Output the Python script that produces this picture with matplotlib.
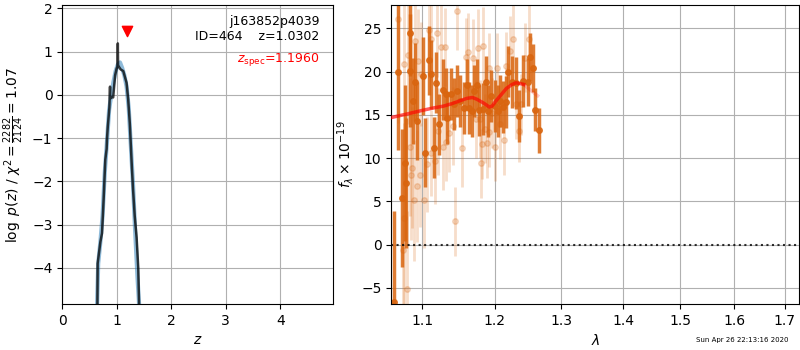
import numpy as np
import matplotlib
matplotlib.use("Agg")
import matplotlib.pyplot as plt
from matplotlib.ticker import FixedLocator, FixedFormatter, NullLocator

# --- p(z) curves ---
z_fit = [0.645, 0.65, 0.67, 0.70, 0.73, 0.76, 0.79, 0.815, 0.82, 0.835, 0.865, 0.877, 0.88,
         0.90, 0.935, 0.97, 1.00, 1.015, 1.02, 1.025, 1.04, 1.07, 1.12, 1.18, 1.21, 1.24,
         1.275, 1.30, 1.33, 1.365, 1.395, 1.41]
lnp_fit = [-4.84, -3.9, -3.7, -3.4, -3.2, -2.4, -1.5, -1.25, -1.05, -0.75, -0.3, 0.19, -0.09,
           -0.05, -0.06, 0.45, 0.62, 0.64, 1.19, 0.66, 0.65, 0.59, 0.55, 0.28, -0.1, -0.66,
           -1.6, -2.2, -2.8, -3.3, -4.0, -4.84]
z_smooth = [0.64, 0.66, 0.70, 0.74, 0.78, 0.82, 0.86, 0.90, 0.94, 0.98, 1.02, 1.06, 1.10,
            1.14, 1.18, 1.22, 1.26, 1.30, 1.34, 1.38, 1.41]
lnp_smooth = [-4.84, -3.9, -3.4, -2.8, -1.8, -1.1, -0.35, 0.0, 0.3, 0.55, 0.7, 0.75, 0.62,
              0.45, 0.2, -0.3, -1.2, -2.1, -3.2, -4.2, -4.84]
z_best = 1.0302
z_spec = 1.1960

# --- spectrum: binned (dark) ---
wave_bin = [1.0636, 1.0687, 1.0731, 1.0765, 1.0787, 1.0830, 1.0839, 1.0874, 1.0904, 1.0934,
            1.1013, 1.1036, 1.1080, 1.1116, 1.1156, 1.1183, 1.1227, 1.1273, 1.1318, 1.1336,
            1.1386, 1.1427, 1.1473, 1.1510, 1.1565, 1.1603, 1.1639, 1.1673, 1.1709, 1.1743,
            1.1780, 1.1828, 1.1875, 1.1908, 1.1947, 1.2004, 1.2043, 1.2077, 1.2116, 1.2160,
            1.2198, 1.2248, 1.2311, 1.2360, 1.2411, 1.2485, 1.2520, 1.2560, 1.2595, 1.2660]
flux_bin = [-6.6, 19.9, 5.4, 9.4, 7.1, 20.1, 24.5, 16.6, 18.8, 14.3,
            19.5, 10.6, 21.3, 19.7, 11.2, 18.7, 13.9, 17.9, 17.4, 14.6,
            17.4, 16.2, 17.7, 16.6, 15.8, 18.5, 15.8, 15.4, 17.8, 18.5,
            15.5, 15.7, 18.8, 15.4, 17.2, 16.0, 15.4, 16.6, 15.9, 16.5,
            20.0, 18.8, 18.7, 14.9, 18.9, 18.8, 21.7, 20.4, 15.6, 13.2]
err_bin = [10.5, 9.0, 8.0, 9.0, 7.5, 6.5, 5.0, 5.0, 4.5, 4.5,
           4.5, 4.0, 4.0, 4.0, 3.5, 3.5, 3.5, 3.5, 3.0, 3.0,
           3.0, 3.0, 3.0, 3.0, 3.0, 3.0, 3.0, 3.0, 3.0, 3.0,
           3.0, 3.0, 3.0, 3.0, 3.0, 3.0, 3.0, 3.0, 3.0, 3.0,
           3.0, 3.0, 3.0, 3.0, 3.0, 2.8, 2.8, 2.8, 2.5, 2.6]

# --- spectrum: unbinned (light) ---
wave_raw = [1.0687, 1.0752, 1.0755, 1.0745, 1.0803, 1.0815, 1.0830, 1.0847, 1.0868, 1.0894,
            1.0904, 1.0926, 1.0947, 1.0970, 1.0975, 1.1026, 1.1058, 1.1080, 1.1116, 1.1120,
            1.1169, 1.1192, 1.1213, 1.1249, 1.1280, 1.1302, 1.1318, 1.1362, 1.1408, 1.1439,
            1.1473, 1.1533, 1.1591, 1.1622, 1.1691, 1.1728, 1.1760, 1.1793, 1.1807, 1.1821,
            1.1829, 1.1853, 1.1890, 1.1912, 1.1922, 1.1954, 1.2004, 1.2037, 1.2077, 1.2131,
            1.2168, 1.2225, 1.2270, 1.2308, 1.2360, 1.2378, 1.2438, 1.2504]
flux_raw = [26.1, 3.1, 20.9, -0.6, -5.1, 21.9, 11.3, 8.0, 8.9, 5.1,
            23.5, 6.8, 21.2, 8.0, 19.7, 5.1, 9.3, 24.8, 23.8, 10.6,
            9.7, 24.4, 13.1, 22.8, 11.3, 22.8, 11.8, 12.9, 13.7, 2.7,
            27.0, 11.2, 21.7, 22.3, 21.6, 14.5, 22.7, 14.5, 9.4, 11.6,
            22.9, 13.4, 11.7, 20.4, 13.0, 15.2, 11.3, 20.4, 13.9, 12.1,
            20.6, 22.4, 23.8, 16.2, 13.1, 16.2, 21.6, 23.8]
err_raw = [12.0, 11.0, 11.0, 10.0, 9.0, 8.0, 8.0, 7.5, 7.0, 7.0,
           6.5, 6.5, 6.0, 6.0, 6.0, 5.5, 5.5, 5.5, 5.0, 5.0,
           5.0, 5.0, 5.0, 5.0, 5.0, 4.5, 4.5, 4.5, 4.5, 4.0,
           4.5, 4.5, 4.5, 4.5, 4.5, 4.5, 4.5, 4.5, 4.0, 4.0,
           4.5, 4.0, 4.0, 4.0, 4.0, 4.0, 4.0, 4.0, 4.0, 4.0,
           4.0, 4.0, 4.0, 4.0, 3.5, 3.5, 4.0, 4.0]

# --- model ---
wave_model = [1.0603, 1.0700, 1.0800, 1.0992, 1.1150, 1.1280, 1.1400, 1.1500, 1.1603, 1.1680,
              1.1743, 1.1830, 1.1922, 1.1960, 1.2015, 1.2100, 1.2168, 1.2250, 1.2308, 1.2380,
              1.2424]
flux_model = [14.7, 14.9, 15.1, 15.5, 15.8, 16.0, 16.3, 16.6, 16.9, 17.0,
              16.8, 16.4, 15.9, 16.0, 16.6, 17.4, 18.05, 18.5, 18.7, 18.6,
              18.5]
wave_model_tail = [1.2424, 1.2517, 1.2634]
flux_model_tail = [18.5, 17.9, 17.2]

wave_ticks = [1.1, 1.2, 1.3, 1.4, 1.5, 1.6, 1.7]

fig = plt.figure(figsize=(8, 3.5), dpi=100)
ax1 = fig.add_axes([0.0778, 0.131, 0.3385, 0.855])
ax2 = fig.add_axes([0.489, 0.131, 0.510, 0.855])

# p(z)
ax1.plot(z_smooth, lnp_smooth, color='#1f77b4', alpha=0.5, lw=3)
ax1.plot(z_fit, lnp_fit, color='k', alpha=0.75, lw=1.8)
ax1.scatter([z_spec], [1.465], marker='v', color='r', s=55, zorder=5)
ax1.text(0.95, 0.965, 'j163852p4039\nID=464    z={0:.4f}'.format(z_best),
         ha='right', va='top', transform=ax1.transAxes, fontsize=9)
ax1.text(0.95, 0.845, r'$z_\mathrm{spec}$' + '={0:.4f}'.format(z_spec),
         ha='right', va='top', color='r', transform=ax1.transAxes, fontsize=9)
ax1.set_xlim(0, 4.97)
ax1.set_ylim(-4.84, 2.08)
ax1.set_xticks([0, 1, 2, 3, 4])
ax1.set_yticks([-4, -3, -2, -1, 0, 1, 2])
ax1.set_xlabel(r'$z$')
ax1.set_ylabel(r'$\log\ p(z)$' + ' / ' + r'$\chi^2=\frac{2282}{2124}=1.07$')
ax1.grid()

# spectrum
orange = '#d9650f'
ax2.errorbar(wave_raw, flux_raw, yerr=err_raw, color=orange, alpha=0.22,
             marker='.', ms=8, linestyle='None', lw=2)
ax2.errorbar(wave_bin, flux_bin, yerr=err_bin, color=orange, alpha=0.85,
             marker='.', ms=8, linestyle='None', lw=2.5)
ax2.plot(wave_model, flux_model, color='r', alpha=0.65, lw=2.5, zorder=4)
ax2.plot(wave_model_tail, flux_model_tail, color='r', alpha=0.2, lw=2.5, zorder=4)
ax2.axhline(0, color='k', linestyle=':', alpha=0.8, lw=1.5)
ax2.set_xscale('log')
ax2.xaxis.set_major_locator(FixedLocator(wave_ticks))
ax2.xaxis.set_major_formatter(FixedFormatter([str(w) for w in wave_ticks]))
ax2.xaxis.set_minor_locator(NullLocator())
ax2.set_xlim(1.0594, 1.7303)
ax2.set_ylim(-6.88, 27.7)
ax2.set_yticks([-5, 0, 5, 10, 15, 20, 25])
ax2.set_xlabel(r'$\lambda$')
ax2.set_ylabel(r'$f_\lambda\times10^{-19}$')
ax2.grid()

fig.text(0.985, 0.028, 'Sun Apr 26 22:13:16 2020', ha='right', va='center', fontsize=5)

fig.savefig('out.png', dpi=100)
